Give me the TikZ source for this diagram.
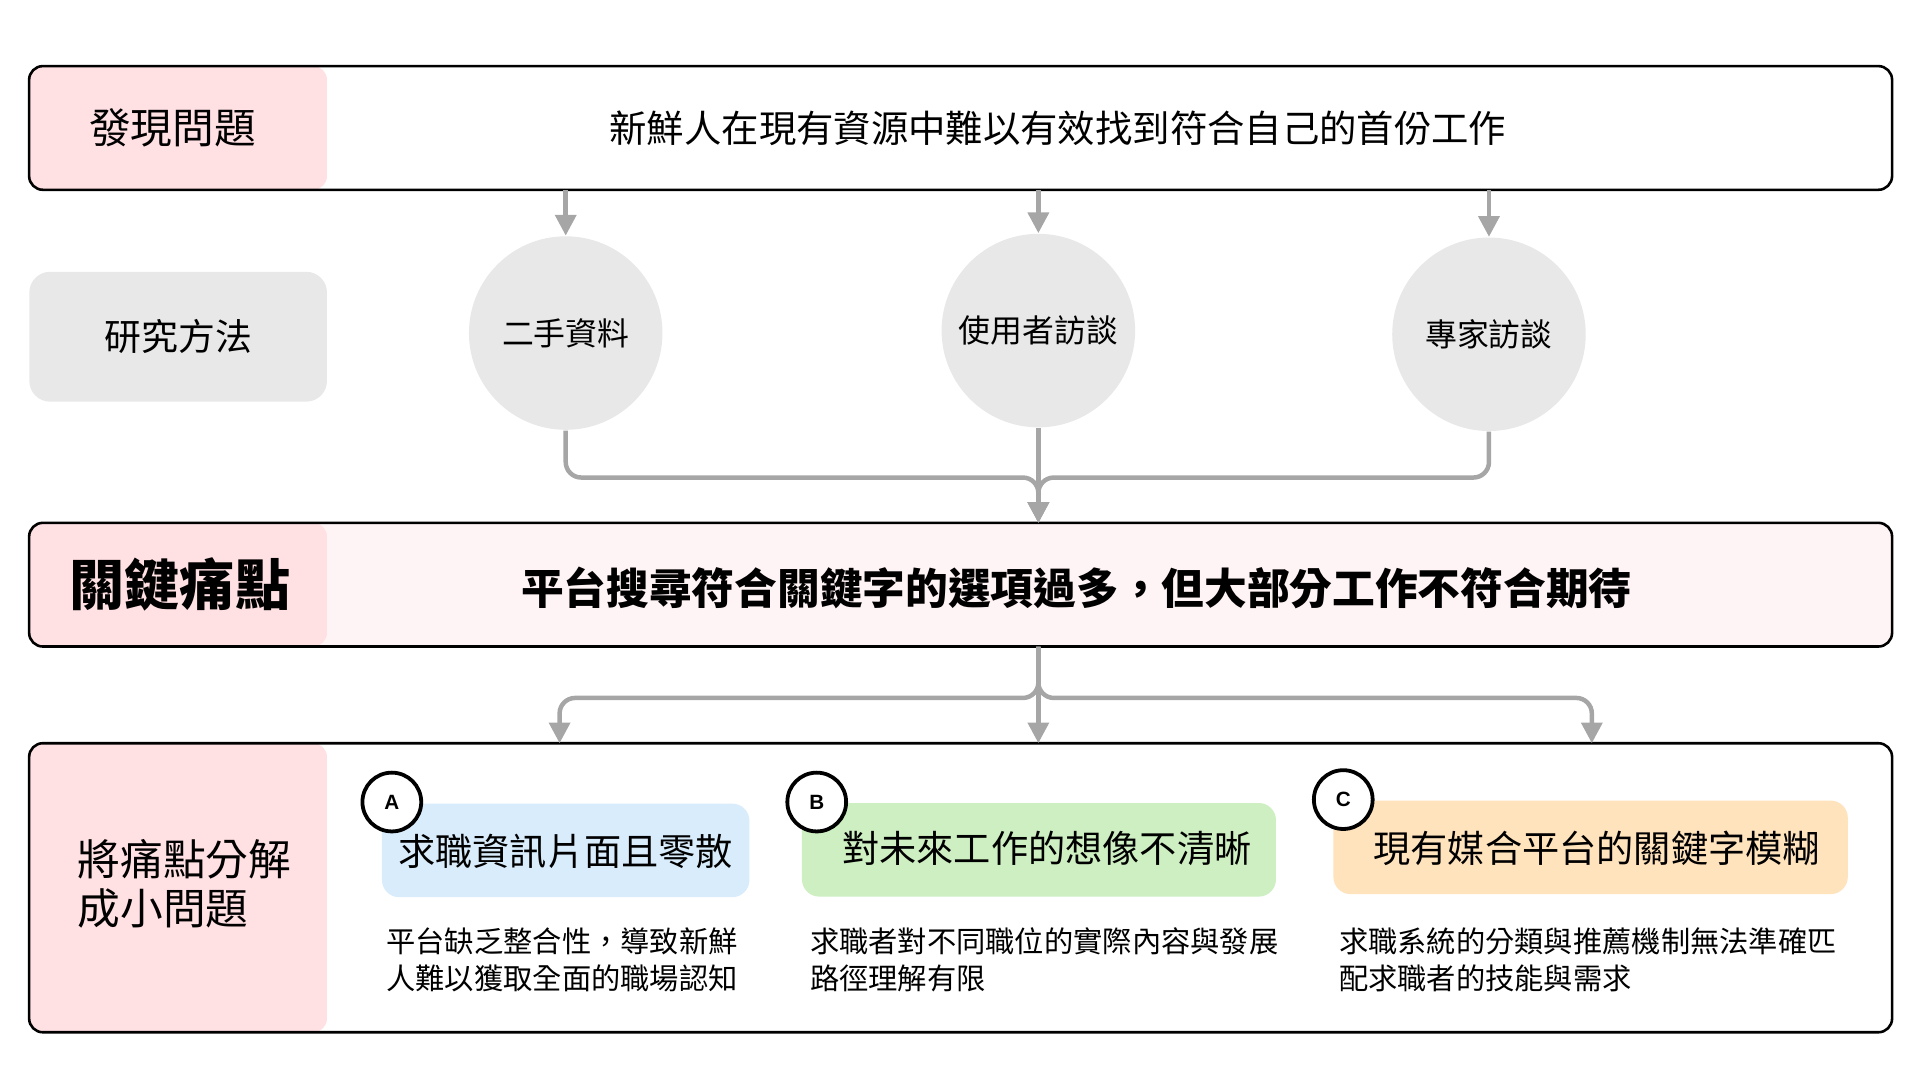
\documentclass[tikz,border=0pt]{standalone}
\usepackage{fontspec}
\setmainfont{Noto Sans CJK TC}
\newfontfamily\lettersans{Liberation Sans}
\usepackage{tikz}
\usetikzlibrary{arrows.meta}

\definecolor{panelpink}{HTML}{FFE0E3}
\definecolor{painbg}{HTML}{FFF4F5}
\definecolor{methodgray}{HTML}{E8E8E8}
\definecolor{flowgray}{HTML}{A6A6A6}
\definecolor{subblue}{HTML}{D8ECFC}
\definecolor{subgreen}{HTML}{CDEFC1}
\definecolor{suborange}{HTML}{FFE3BD}

\tikzset{
	bigbox/.style={minimum width=19.0125cm, inner sep=0pt, outer sep=0pt, rounded corners=4pt},
	border/.style={draw=black, line width=0.75pt, rounded corners=4pt},
	panel/.style={fill=panelpink, minimum width=3.0375cm, inner sep=0pt, rounded corners=4pt},
	method/.style={circle, fill=methodgray, minimum size=1.975cm, inner sep=0pt},
	flow/.style={draw=flowgray, line width=1.3pt, rounded corners=4.5pt, -{Triangle[width=6pt,length=6pt]}},
	subbox/.style={minimum height=0.955cm, inner sep=0pt, rounded corners=5pt},
	subtitle/.style={font=\fontsize{10.8pt}{12pt}\selectfont},
	letter/.style={circle, draw=black, fill=white, line width=1.1pt, minimum size=0.6cm, inner sep=0pt, font=\lettersans\bfseries\fontsize{6pt}{7pt}\selectfont},
	desc/.style={anchor=north west, align=left, inner sep=0pt, font=\fontsize{8.5pt}{10.7pt}\selectfont}
}

\begin{document}
\begin{tikzpicture}[x=0.0125cm, y=-0.0125cm]
		\useasboundingbox (0,0) rectangle (1568,882);
		
		% problem row
		\node[bigbox, fill=white, minimum height=1.2625cm] (problem) at (784.5,104.5) {};
		\node[panel, minimum height=1.2625cm] (problempanel) at (145.5,104.5) {};
		\draw[border] (problem.north west) rectangle (problem.south east);
		\node[font=\fontsize{12.1pt}{14pt}\selectfont] (problemtitle) at (141,104) {發現問題};
		\node[font=\fontsize{10.85pt}{13pt}\selectfont] (problemtext) at (864,105) {新鮮人在現有資源中難以有效找到符合自己的首份工作};
		
		% research methods
		\node[fill=methodgray, rounded corners=6pt, minimum width=3.0375cm, minimum height=1.325cm, font=\fontsize{10.7pt}{12pt}\selectfont] (method) at (145.5,275) {研究方法};
		\node[method, font=\fontsize{9.25pt}{11pt}\selectfont] (src1) at (462,272) {二手資料};
		\node[method, font=\fontsize{9.25pt}{11pt}\selectfont] (src2) at (848,270) {使用者訪談};
		\node[method, font=\fontsize{9.25pt}{11pt}\selectfont] (src3) at (1216,273) {專家訪談};
		
		% pain point row
		\node[bigbox, fill=painbg, minimum height=1.2625cm] (pain) at (784.5,477.5) {};
		\node[panel, minimum height=1.2625cm] (painpanel) at (145.5,477.5) {};
		\draw[border] (pain.north west) rectangle (pain.south east);
		\node[font=\bfseries\fontsize{16pt}{18pt}\selectfont] (paintitle) at (147,477) {關鍵痛點};
		\node[font=\bfseries\fontsize{12.4pt}{15pt}\selectfont] (paintext) at (879,480) {平台搜尋符合關鍵字的選項過多，但大部分工作不符合期待};
		
		% decomposition row
		\node[bigbox, fill=white, minimum height=2.95cm] (split) at (784.5,725) {};
		\node[panel, minimum height=2.95cm] (splitpanel) at (145.5,725) {};
		\draw[border] (split.north west) rectangle (split.south east);
		\node[anchor=west, align=left, inner sep=0pt, font=\fontsize{12.4pt}{14.2pt}\selectfont] (splittitle) at (63,722) {將痛點分解\\成小問題};
		
		\node[subbox, fill=subblue, minimum width=3.75cm] (subA) at (462,694.5) {};
		\node[subbox, fill=subgreen, minimum width=4.8375cm] (subB) at (848.5,694) {};
		\node[subbox, fill=suborange, minimum width=5.25cm] (subC) at (1299,692) {};
		\node[subtitle] (titleA) at (462,695) {求職資訊片面且零散};
		\node[subtitle] (titleB) at (855,693) {對未來工作的想像不清晰};
		\node[subtitle] (titleC) at (1304,693) {現有媒合平台的關鍵字模糊};
		\node[letter] (letA) at (320,655) {A};
		\node[letter] (letB) at (667,655) {B};
		\node[letter] (letC) at (1097,653) {C};
		
		\node[desc] (descA) at (315,757) {平台缺乏整合性，導致新鮮\\人難以獲取全面的職場認知};
		\node[desc] (descB) at (661,757) {求職者對不同職位的實際內容與發展\\路徑理解有限};
		\node[desc] (descC) at (1093,757) {求職系統的分類與推薦機制無法準確匹\\配求職者的技能與需求};
		
		% arrows down to the methods
		\draw[flow] (problem.south -| src1) -- (src1.north);
		\draw[flow] (problem.south -| src2) -- (src2.north);
		\draw[flow] (problem.south -| src3) -- (src3.north);
		
		% merge into pain point
		\coordinate (merge) at (848,390);
		\draw[flow] (src1.south) |- (merge) -- (pain.north -| merge);
		\draw[flow] (src3.south) |- (merge) -- (pain.north -| merge);
		\draw[flow] (src2.south) -- (pain.north -| merge);
		
		% split into sub problems
		\coordinate (fork) at (848,570);
		\coordinate (toA) at (457,607);
		\coordinate (toC) at (1300,607);
		\draw[flow] (pain.south -| fork) -- (fork) -| (toA);
		\draw[flow] (pain.south -| fork) -- (fork) -| (toC);
		\draw[flow] (pain.south -| fork) -- (split.north -| fork);
\end{tikzpicture}
\end{document}
